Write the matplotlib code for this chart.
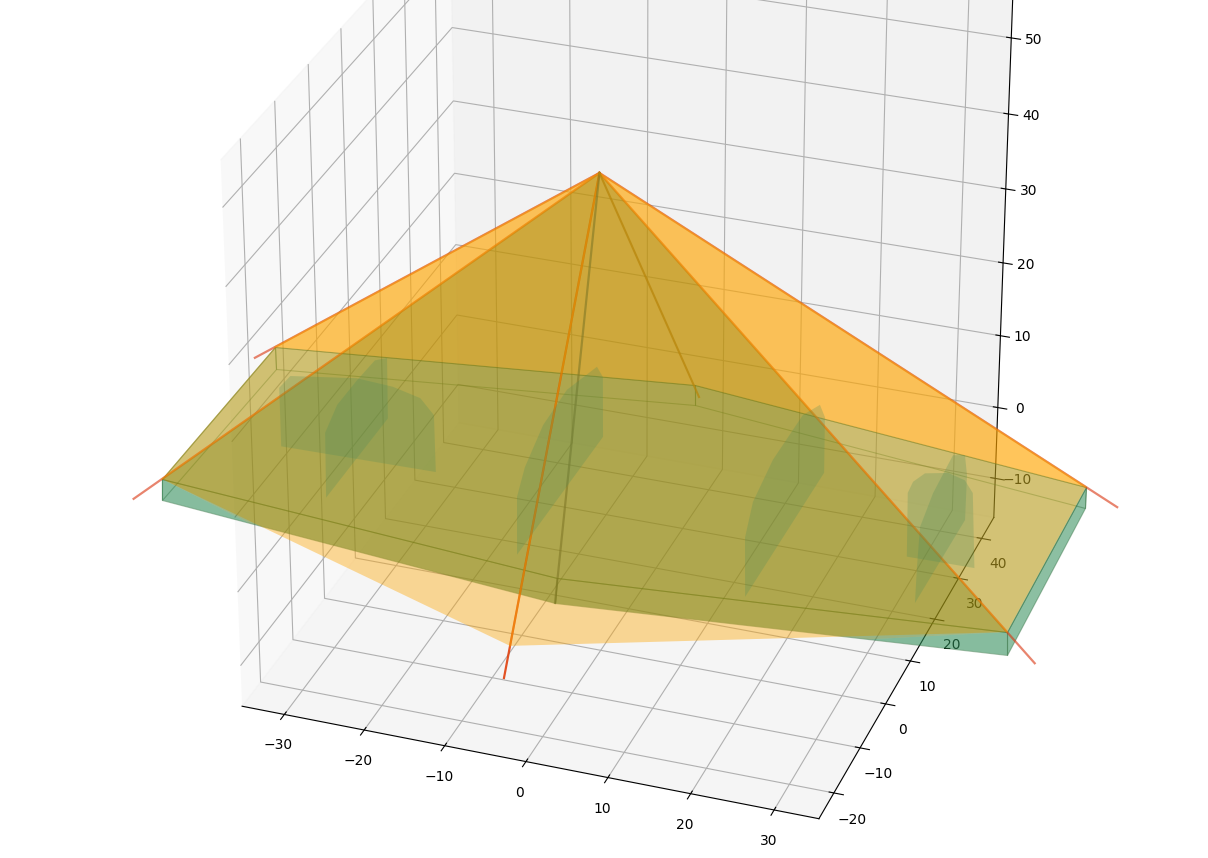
import matplotlib
matplotlib.use("Agg")
import matplotlib.pyplot as plt
from mpl_toolkits.mplot3d.art3d import Poly3DCollection

# apex of the roof and the slab outline (front-left, front-mid, front-right, back-right, back-mid, back-left)
apex = (0.0, 0.0, 48.0)
slab_top = [(-51.75, -9.38, 3.0), (0.04, -14.96, 3.0), (52.03, -9.01, 3.0),
            (51.83, 25.38, 3.0), (0.38, 33.25, 3.0), (-51.53, 25.01, 3.0)]
slab_bot = [(-51.75, -9.65, 0.27), (0.17, -16.02, 0.27), (52.26, -9.49, 0.27),
            (51.88, 25.14, 0.27), (0.44, 33.14, 0.27), (-51.23, 24.40, 0.27)]
wedge_left = (-40.0, -11.1, 0.27)
wedge_right = (36.67, -11.45, 0.27)

# where the roof ridges stop
ridge_ends = [(-55.27, -10.01, -0.06), (55.56, -9.62, -0.06), (55.30, 27.08, -0.02), (-55.03, 26.71, -0.06)]
red_end = (-5.52, -17.87, -10.0)
roof_low = (-5.16, -16.71, -6.23)
inner_front = (0.17, -16.02, 0.27)
inner_back = (0.26, 35.19, 0.27)

# green fins
fin_a = [(-43.7, 7.8, 7.8), (-42.2, 7.8, 9.7), (-33.6, 7.8, 11.0), (-29.0, 7.8, 10.7),
         (-25.5, 7.8, 9.8), (-23.8, 7.8, 7.8), (-23.7, 7.8, 0.0), (-43.7, 7.8, -0.3)]
fin_f = [(35.1, 8.0, -0.1), (35.0, 8.0, 8.5), (35.6, 8.0, 10.1), (37.0, 8.0, 11.5),
         (39.8, 8.0, 12.1), (41.8, 8.0, 11.5), (42.8, 8.0, 10.0), (43.3, 8.0, -0.0)]
fin_b = [(-33.8, -2.2, -0.0), (-33.8, -1.9, 8.7), (-33.8, 2.0, 10.4), (-33.8, 8.3, 10.4),
         (-33.8, 14.1, 10.1), (-33.8, 18.0, 8.4), (-33.8, 17.8, 0.1)]
fin_c = [(-7.8, -7.1, 0.1), (-7.8, -6.9, 7.8), (-7.8, -4.2, 10.3), (-7.8, 2.0, 12.6),
         (-7.8, 10.2, 13.0), (-7.8, 20.7, 10.6), (-7.8, 22.8, 8.1), (-7.8, 22.8, -0.2)]
fin_d = [(20.2, -7.0, 0.0), (20.2, -7.3, 8.1), (20.2, -4.5, 11.3), (20.2, 2.8, 12.9),
         (20.2, 14.1, 12.8), (20.2, 20.8, 10.6), (20.2, 22.9, 7.8), (20.2, 23.0, 0.1)]
fin_e = [(39.0, -1.6, -0.1), (39.0, -1.2, 4.5), (39.0, -0.4, 9.4), (39.0, 4.6, 11.1),
         (39.0, 12.6, 11.8), (39.0, 17.8, 9.0), (39.0, 19.0, 5.6), (39.0, 18.8, -0.4)]
fins = [fin_a, fin_b, fin_c, fin_d, fin_e, fin_f]

fig = plt.figure(figsize=(12.08, 8.58), dpi=100)
ax = fig.add_axes([12.788 / 1208, 68.893 / 858, 1, 1], projection="3d", computed_zorder=False)
ax.view_init(29.02, -70.543)
ax.set_proj_type("persp", focal_length=1.22)
ax.set_box_aspect((1, 1, 1.013), zoom=1.189)
ax.tick_params(axis="x", pad=1.2)
ax.tick_params(axis="y", pad=1.9)
ax.tick_params(axis="z", pad=1.9)


def poly(v, fc, ec="none", lw=0, z=1):
    c = Poly3DCollection([v], facecolors=fc, edgecolors=ec, linewidths=lw, zorder=z)
    ax.add_collection3d(c)
    c.set_clip_on(False)


def line(a, b, c, al, lw, z):
    ax.plot([a[0], b[0]], [a[1], b[1]], [a[2], b[2]], color=c, alpha=al, lw=lw, zorder=z, clip_on=False)


edge = (0.15, 0.4, 0.2, 0.4)
green = (0.18, 0.55, 0.34, 0.35)
side = (0.18, 0.55, 0.34, 0.55)
clear = (0, 0, 0, 0)
org = (1.0, 0.647, 0.0, 0.4)
a, mf, b, c, mb, d = slab_top
a2, mf2, b2, c2, mb2, d2 = slab_bot

# slab
poly(slab_top, green, edge, 0.8, 2)
poly([a, mf, mf2, a2], green, edge, 0.8, 1)
poly([mf, b, b2, mf2], green, edge, 0.8, 1)
poly([b, c, c2, b2], side, edge, 0.8, 1)
poly([c, mb, mb2, c2], clear, edge, 0.8, 1)
poly([mb, d, d2, mb2], clear, edge, 0.8, 1)
poly([d, a, a2, d2], clear, edge, 0.8, 1)
poly([a, a2, wedge_left], green, z=1)
poly([b, b2, wedge_right], green, z=1)

# ridges below the roof faces
for e in ridge_ends:
    line(apex, e, (0.85, 0.2, 0.05), 0.6, 1.6, 4)
line(apex, red_end, (0.88, 0.25, 0.05), 0.9, 1.6, 4)

# roof faces
poly([apex, d, mb, c], org, z=5)
poly([apex, a, d], org, z=5)
poly([apex, c, b], org, z=5)
poly([apex, a, roof_low, b], org, z=6)
poly([apex, a, wedge_left, inner_front, wedge_right, b], (0.41, 0.45, 0.0, 0.3), z=7)

for p in [a, b, c, d, roof_low]:
    line(apex, p, (0.95, 0.58, 0.05), 0.45, 1.3, 8)
line(apex, inner_front, (0.5, 0.47, 0.15), 0.6, 1.6, 8)
line(apex, inner_back, "darkgoldenrod", 0.75, 1.5, 8)

for fin in fins:
    poly(fin, (0.3, 0.55, 0.35, 0.25), z=9)

ax.set_xlim(-35.329, 35.329)
ax.set_ylim(-25.603, 45.356)
ax.set_zlim(-15.577, 55.914)
fig.savefig("out.png", dpi=100)
